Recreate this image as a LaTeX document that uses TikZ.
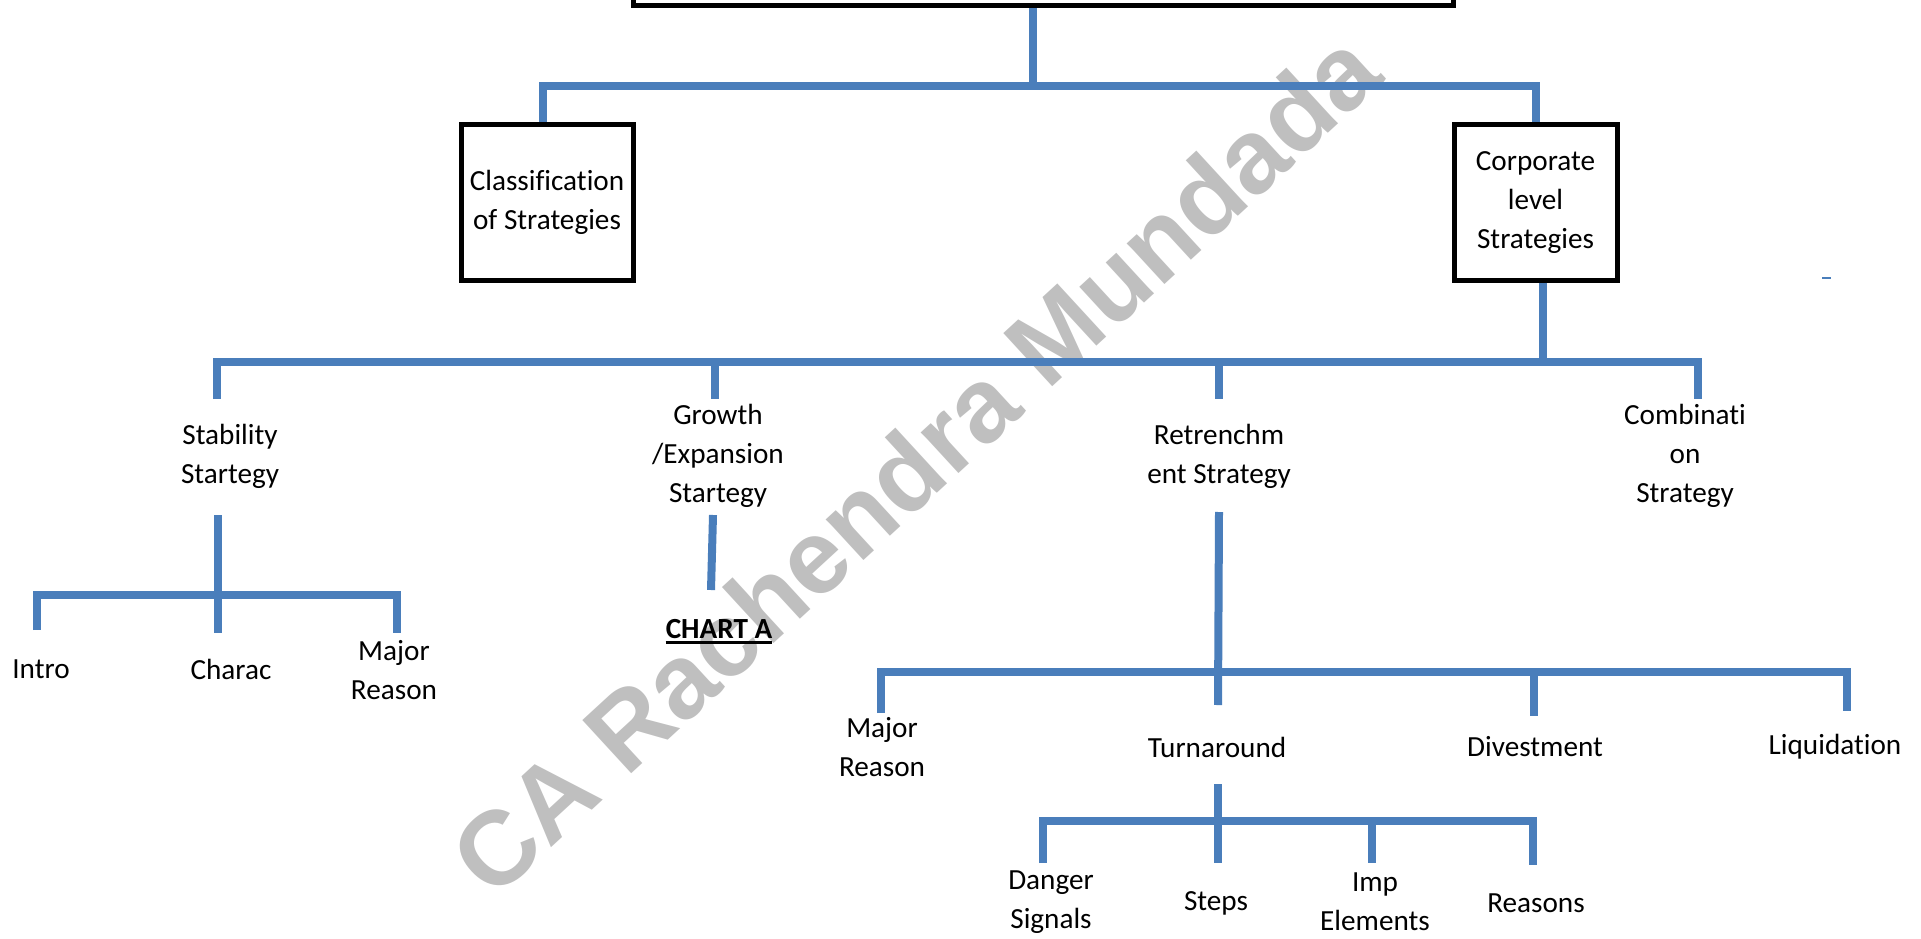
\documentclass[tikz,border=0pt]{standalone}
\usepackage{fontspec}
\setmainfont{Carlito}[Ligatures=NoCommon]
\newfontfamily\wmfont{Liberation Sans}
\definecolor{lineblue}{RGB}{74,126,187}
\definecolor{wmgrey}{RGB}{191,191,191}
\begin{document}
\begin{tikzpicture}[x=1pt,y=-1pt,
  conn/.style={draw=lineblue,line width=8pt},
  box/.style={draw=black,line width=5pt,align=center,inner sep=0pt,
    font=\fontsize{29.2}{39}\selectfont},
  lbl/.style={align=center,inner sep=0pt,font=\fontsize{29.2}{39}\selectfont},
  wm/.style={text=wmgrey,inner sep=0pt,font=\wmfont\bfseries\fontsize{105}{105}\selectfont}
]
\useasboundingbox (0,0) rectangle (1921,939);
% watermark
\node[wm,rotate=42.6] (wmark) at (915,463) {CA Rachendra Mundada};

% boxes
\node[box,minimum width=819.4pt,minimum height=200pt] (top) at (1043.3,-94) {};
\node[box,minimum width=172pt,minimum height=155.5pt] (cls) at (547,202.5) {Classification\\of Strategies};
\node[box,minimum width=163pt,minimum height=155.5pt] (corp) at (1535.5,202.5) {Corporate\\level\\Strategies};

% level 1 connectors
\coordinate (j1) at (1033,86);
\coordinate (c1) at (543,0);
\draw[conn] (top.south -| j1) -- (j1);
\draw[conn] (cls.north -| c1) |- (j1) -| (corp.north);

% small dash
\coordinate (dashA) at (1822,278);
\coordinate (dashB) at (1831,278);
\draw[draw=lineblue,line width=1.5pt] (dashA) -- (dashB);

% level 2
\coordinate (j2) at (1543,362);
\coordinate (dstab) at (217,399);
\coordinate (dgrow) at (715,399);
\coordinate (dretr) at (1219,399);
\coordinate (dcomb) at (1698,399);
\draw[conn] (corp.south -| j2) -- (j2);
\draw[conn] (dstab) |- (dcomb |- j2) -- (dcomb);
\draw[conn] (dgrow |- j2) -- (dgrow);
\draw[conn] (dretr |- j2) -- (dretr);

\node[lbl] (stab) at (230,456) {Stability\\Startegy};
\node[lbl] (grow) at (718,456) {Growth\\/Expansion\\Startegy};
\node[lbl] (retr) at (1219,456) {Retrenchm\\ent Strategy};
\node[lbl] (comb) at (1685,456) {Combinati\\on\\Strategy};

% stability subtree
\coordinate (stop) at (218,515);
\coordinate (sbot) at (218,633);
\coordinate (sj) at (218,595);
\coordinate (sl) at (37,630);
\coordinate (sr) at (397,633);
\draw[conn] (stop) -- (sbot);
\draw[conn] (sl) |- (sr |- sj) -- (sr);
\node[lbl] (intro) at (41,669) {Intro};
\node[lbl] (charac) at (231,669) {Charac};
\node[lbl] (majA) at (394,670) {Major\\Reason};

% growth
\coordinate (gtop) at (713,515);
\coordinate (gbot) at (711,590);
\draw[conn] (gtop) -- (gbot);
\node[inner sep=0pt,anchor=base,font=\fontsize{29.2}{39}\selectfont\bfseries] (chart) at (719,638) {CHART A};
\draw[line width=3pt] ([yshift=-4pt]chart.base west) -- ([yshift=-4pt]chart.base east);

% retrenchment subtree
\coordinate (rtop) at (1219,512);
\coordinate (rbot) at (1218,705);
\coordinate (rj) at (1219,672);
\coordinate (rmr) at (881,713);
\coordinate (rdv) at (1534,716);
\coordinate (rlq) at (1847,711);
\draw[conn] (rtop) -- (rbot);
\draw[conn] (rmr) |- (rlq |- rj) -- (rlq);
\draw[conn] (rdv |- rj) -- (rdv);
\node[lbl] (majB) at (882,747) {Major\\Reason};
\node[lbl] (turn) at (1217,747) {Turnaround};
\node[lbl] (div) at (1535,747) {Divestment};
\node[lbl] (liq) at (1835,747) {Liquidation};

% turnaround subtree
\coordinate (ttop) at (1218,784);
\coordinate (tbot) at (1218,863);
\coordinate (tj) at (1218,821);
\coordinate (tds) at (1043,863);
\coordinate (tim) at (1372,863);
\coordinate (trs) at (1533,865);
\draw[conn] (ttop) -- (tbot);
\draw[conn] (tds) |- (trs |- tj) -- (trs);
\draw[conn] (tim |- tj) -- (tim);
\node[lbl] (danger) at (1051,902) {Danger\\Signals};
\node[lbl] (steps) at (1216,903) {Steps};
\node[lbl] (imp) at (1375,902) {Imp\\Elements};
\node[lbl] (reasons) at (1536,903) {Reasons};
\end{tikzpicture}
\end{document}
